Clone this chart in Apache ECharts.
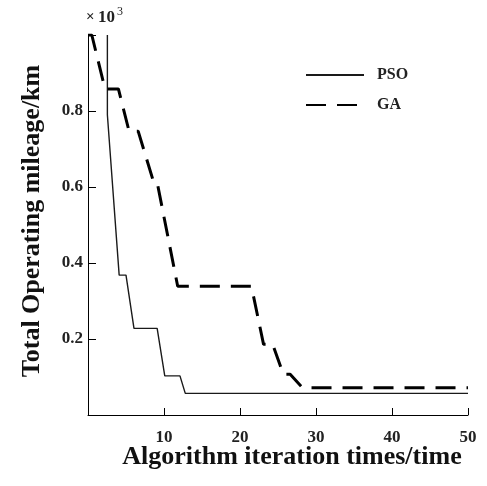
<!DOCTYPE html>
<html>
<head>
<meta charset="utf-8">
<script src="https://cdn.jsdelivr.net/npm/echarts@6/dist/echarts.min.js"></script>
<style>
  html, body { margin: 0; padding: 0; background: #fff; }
  #chart { width: 487px; height: 486px; }
</style>
</head>
<body>
<div id="chart"></div>
<script>
// values (y in units of 10^3 km)
const psoX = [2.55, 2.55, 4.1, 5.0, 6.05, 9.1, 10.1, 12.1, 12.8, 50];
const psoY = [1.0, 0.79, 0.368, 0.368, 0.228, 0.228, 0.103, 0.103, 0.057, 0.057];

const gaX = [0, 0.5, 2.24, 4.0, 5.4, 6.6, 8.8, 9.2, 11.8, 21.5, 23.1, 24.3, 25.7, 26.6, 28.2, 50];
const gaY = [1.0, 1.0, 0.858, 0.858, 0.747, 0.747, 0.602, 0.602, 0.339, 0.339, 0.186, 0.186, 0.107, 0.107, 0.072, 0.072];

const xTickLabels = [10, 20, 30, 40, 50];
const yTickLabels = [0.2, 0.4, 0.6, 0.8];

const serif = '"Liberation Serif", "Times New Roman", serif';

const chart = echarts.init(document.getElementById('chart'));

function pairs(xs, ys) {
  return xs.map((x, i) => [x, ys[i]]);
}

const option = {
  animation: false,
  backgroundColor: '#fff',
  grid: { left: 88, right: 19, top: 35, bottom: 71 },
  legend: {
    orient: 'vertical',
    left: 300,
    top: 61,
    itemWidth: 58,
    itemHeight: 14,
    itemGap: 12,
    itemStyle: { opacity: 0 },
    textStyle: { fontFamily: serif, fontWeight: 'bold', fontSize: 16, color: '#222', padding: [0, 0, 0, 8], lineHeight: 18 },
    data: ['PSO', 'GA']
  },
  xAxis: {
    type: 'value',
    min: 0,
    max: 50,
    interval: 10,
    name: 'Algorithm iteration times/time',
    nameLocation: 'middle',
    nameGap: 29,
    nameMoveOverlap: false,
    nameTextStyle: { fontFamily: serif, fontWeight: 'bold', fontSize: 26, color: '#111', padding: [0, 0, 0, 28] },
    splitLine: { show: false },
    axisLine: { lineStyle: { color: '#000', width: 1 } },
    axisTick: { inside: true, length: 7, lineStyle: { color: '#000' } },
    axisLabel: {
      margin: 14,
      fontFamily: serif, fontWeight: 'bold', fontSize: 17, color: '#222',
      formatter: v => xTickLabels.includes(v) ? String(v) : ''
    }
  },
  yAxis: {
    type: 'value',
    min: 0,
    max: 1,
    interval: 0.2,
    name: 'Total Operating mileage/km',
    nameLocation: 'middle',
    nameRotate: 90,
    nameGap: 43,
    nameMoveOverlap: false,
    nameTextStyle: { fontFamily: serif, fontWeight: 'bold', fontSize: 26, color: '#111', padding: [0, 0, 0, 8] },
    splitLine: { show: false },
    axisLine: { show: true, lineStyle: { color: '#000', width: 1 } },
    axisTick: { show: true, inside: true, length: 8, lineStyle: { color: '#000' } },
    axisLabel: {
      margin: 5,
      fontFamily: serif, fontWeight: 'bold', fontSize: 17, color: '#222',
      formatter: v => {
        const r = Math.round(v * 10) / 10;
        return yTickLabels.includes(r) ? r.toFixed(1) : '';
      }
    }
  },
  graphic: [
    {
      type: 'text', left: 86, top: 10,
      style: { text: '×', fontFamily: serif, fontWeight: 'bold', fontSize: 15, fill: '#222' }
    },
    {
      type: 'text', left: 98, top: 9,
      style: { text: '10', fontFamily: serif, fontWeight: 'bold', fontSize: 17, fill: '#222' }
    },
    {
      type: 'text', left: 117, top: 6,
      style: { text: '3', fontFamily: serif, fontSize: 12, fill: '#222' }
    }
  ],
  series: [
    {
      name: 'PSO',
      type: 'line',
      symbol: 'none',
      data: pairs(psoX, psoY),
      lineStyle: { color: '#1a1a1a', width: 1.4 },
      itemStyle: { color: '#1a1a1a' }
    },
    {
      name: 'GA',
      type: 'line',
      symbol: 'none',
      data: pairs(gaX, gaY),
      lineStyle: { color: '#000', width: 3, type: [20, 11] },
      itemStyle: { color: '#000' }
    }
  ]
};

chart.setOption(option);
</script>
</body>
</html>
